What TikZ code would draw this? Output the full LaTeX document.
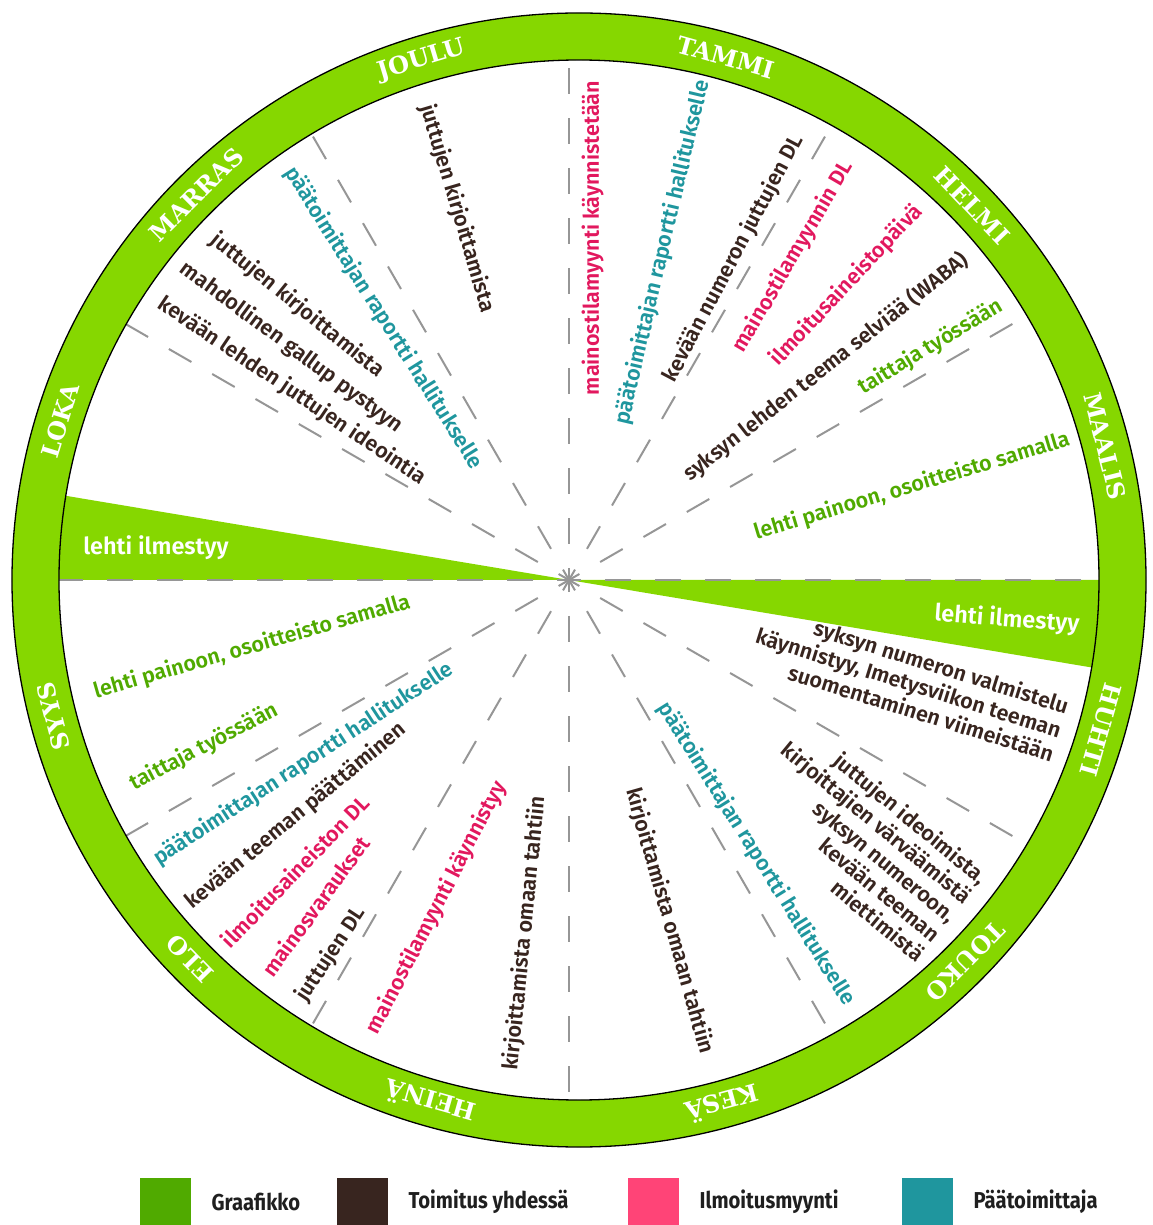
\documentclass[tikz,border=0pt]{standalone}
\usepackage{fontspec}
\setmainfont{Fira Sans}[BoldFont={Fira Sans SemiBold}]
\newfontfamily\monthfont{DejaVu Serif}
\newfontfamily\keyfont{Fira Sans}[FakeStretch=0.88]
\usepackage{xcolor}
\usepackage{tikz}
\usetikzlibrary{positioning}

\definecolor{ringgreen}{RGB}{134,215,0}
\definecolor{grafgreen}{RGB}{80,170,0}
\definecolor{toimbrown}{RGB}{56,37,31}
\definecolor{ilmopink}{RGB}{226,24,94}
\definecolor{keypink}{RGB}{255,68,119}
\definecolor{paatteal}{RGB}{31,150,158}
\definecolor{spokegray}{RGB}{150,150,150}

\begin{document}
\begin{tikzpicture}[x=1pt, y=1pt,
      txt/.style={font=\fontsize{21.5}{25}\selectfont\bfseries, inner sep=0pt},
      graf/.style={txt, text=grafgreen},
      toim/.style={txt, text=toimbrown},
      ilmo/.style={txt, text=ilmopink},
      paat/.style={txt, text=paatteal},
      issue/.style={txt, font=\fontsize{23.5}{25}\selectfont\bfseries, text=white},
      month/.style={font=\monthfont\fontsize{24}{24}\selectfont\bfseries, text=white, inner sep=0pt},
      spoke/.style={spokegray, line width=2pt, dash pattern=on 26pt off 24pt, dash phase=14pt},
      key/.style={minimum width=51pt, minimum height=47pt, inner sep=0pt, anchor=north west},
      keytxt/.style={font=\keyfont\fontsize{23}{23}\selectfont\bfseries, text=black!88, inner sep=0pt, right=20pt of #1}]
      \useasboundingbox (-579,-645) rectangle (573,580);
      \coordinate (c) at (0,0);
      \begin{scope}
        \clip (c) circle (520);
        \begin{scope}[shift={(-10,0)}]
          \fill[ringgreen] (0,0) -- (170.5:600) -- (180:600) -- cycle;
          \fill[ringgreen] (0,0) -- (0:600) -- (-9.5:600) -- cycle;
          \foreach \a in {0,30,...,330} \draw[spoke] (0,0) -- (\a:600);
        \end{scope}
      \end{scope}
      \fill[ringgreen, even odd rule] (c) circle (567) (c) circle (520);
      \draw[line width=1.3pt] (c) circle (567) (c) circle (520);
      % months round the ring
      \node[month, rotate=-15.7] (tammi)  at (74.3:543)  {TAMMI};
      \node[month, rotate=-46.4] (helmi)  at (43.6:543)  {HELMI};
      \node[month, rotate=-75.7] (maalis) at (14.3:543)  {MAALIS};
      \node[month, rotate=254]   (huhti)  at (344:543)   {HUHTI};
      \node[month, rotate=225.4] (touko)  at (315.4:543) {TOUKO};
      \node[month, rotate=195.3] (kesa)   at (285.3:543) {KESÄ};
      \node[month, rotate=164.1] (heina)  at (254.1:543) {HEINÄ};
      \node[month, rotate=134.2] (elo)    at (224.2:543) {ELO};
      \node[month, rotate=104.5] (syys)   at (194.5:543) {SYYS};
      \node[month, rotate=72.9]  (loka)   at (162.9:543) {LOKA};
      \node[month, rotate=44.8]  (marras) at (134.8:543) {MARRAS};
      \node[month, rotate=16.8]  (joulu)  at (106.8:543) {JOULU};
      % issue wedges
      \node[issue] (ilm1) at (-423,32) {lehti ilmestyy};
      \node[issue, rotate=-4.3] (ilm2) at (428,-39.5) {lehti ilmestyy};
      % upper left
      \node[toim, rotate=-73.4] (jou1) at (-121.5,371.5) {juttujen kirjoittamista};
      \node[paat, rotate=-57.8] (jou2) at (-195.5,262) {päätoimittajan raportti hallitukselle};
      \node[toim, rotate=-39]   (mar1) at (-281.5,274.5) {juttujen kirjoittamista};
      \node[toim, rotate=-36.5] (mar2) at (-287.5,232.5) {mahdollinen gallup pystyyn};
      \node[toim, rotate=-34]   (mar3) at (-287,189) {kevään lehden juttujen ideointia};
      % upper right
      \node[ilmo, rotate=90]   (tam1) at (13.5,342) {mainostilamyynti käynnistetään};
      \node[paat, rotate=76.8] (tam2) at (83.5,327.5) {päätoimittajan raportti hallitukselle};
      \node[toim, rotate=62.2] (hel1) at (154.5,321.5) {kevään numeron juttujen DL};
      \node[ilmo, rotate=59.7] (hel2) at (214,323) {mainostilamyynnin DL};
      \node[ilmo, rotate=46.9] (hel3) at (267.5,294.5) {ilmoitusaineistopäivä};
      \node[toim, rotate=38.1] (maa1) at (247,213) {syksyn lehden teema selviää (WABA)};
      \node[graf, rotate=30.9] (maa2) at (351.5,233) {taittaja työssään};
      \node[graf, rotate=16.7] (maa3) at (333,93.5) {lehti painoon, osoitteisto samalla};
      % lower right
      \node[toim, rotate=-17.4, align=right, anchor=east] (huh1) at (482,-150)
            {syksyn numeron valmistelu\\käynnistyy, Imetysviikon teeman\\suomentaminen viimeistään};
      \node[toim, rotate=-39.5, align=right, anchor=east] (tou1) at (374.5,-337.6)
            {juttujen ideoimista,\\kirjoittajien värväämistä\\syksyn numeroon,\\kevään teeman\\miettimistä};
      \node[paat, rotate=-58]   (kes1) at (177.5,-274) {päätoimittajan raportti hallitukselle};
      \node[toim, rotate=-74.2] (kes2) at (90.5,-341) {kirjoittamista omaan tahtiin};
      % lower left
      \node[graf, rotate=16]   (syy1) at (-327,-67) {lehti painoon, osoitteisto samalla};
      \node[graf, rotate=27.5] (syy2) at (-375,-167) {taittaja työssään};
      \node[paat, rotate=33.1] (syy3) at (-275.5,-184) {päätoimittajan raportti hallitukselle};
      \node[toim, rotate=39.6] (elo1) at (-283,-236) {kevään teeman päättäminen};
      \node[ilmo, rotate=45.8] (elo2) at (-284,-291) {ilmoitusaineiston DL};
      \node[ilmo, rotate=53.8] (elo3) at (-263.5,-326) {mainosvaraukset};
      \node[toim, rotate=56.6] (elo4) at (-248,-374) {juttujen DL};
      \node[ilmo, rotate=62.8] (hei1) at (-142.5,-327.5) {mainostilamyynti käynnistyy};
      \node[toim, rotate=84.3] (hei2) at (-54,-353.5) {kirjoittamista omaan tahtiin};
      % legend
      \node[key, fill=grafgreen] (kgraf) at (-439,-598) {};
      \node[key, fill=toimbrown] (ktoim) at (-242,-598) {};
      \node[key, fill=keypink]   (kilmo) at (49,-598) {};
      \node[key, fill=paatteal]  (kpaat) at (323,-598) {};
      \node[keytxt=kgraf] (tgraf) {Graafikko};
      \node[keytxt=ktoim] (ttoim) {Toimitus yhdessä};
      \node[keytxt=kilmo] (tilmo) {Ilmoitusmyynti};
      \node[keytxt=kpaat] (tpaat) {Päätoimittaja};
    \end{tikzpicture}
\end{document}
